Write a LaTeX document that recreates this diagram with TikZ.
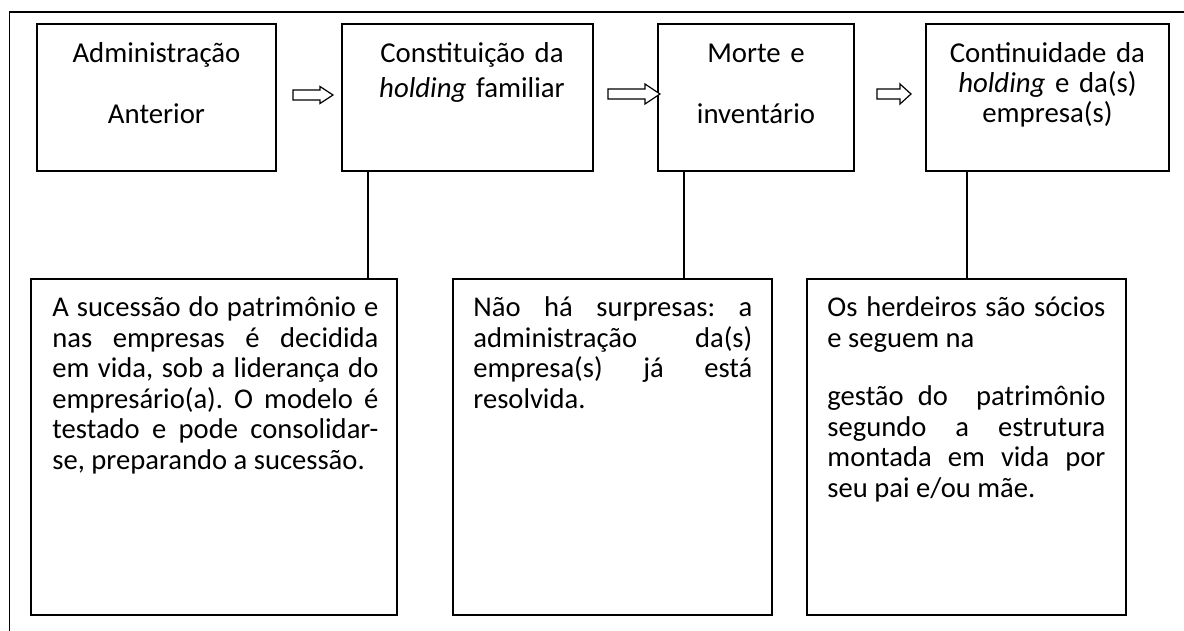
\documentclass[tikz,border=0pt]{standalone}
\usepackage{fontspec}
\setmainfont{Carlito}
\usetikzlibrary{calc}
\begin{document}
\frenchspacing
\begin{tikzpicture}[x=0.5pt,y=-0.5pt,
  box/.style={draw, line width=0.7pt, anchor=north west, inner sep=0pt, outer sep=0pt},
  toptext/.style={anchor=north, inner sep=0pt, text width=#1, align=center,
     font=\fontsize{14.4pt}{15pt}\selectfont},
  para/.style={anchor=north west, inner sep=0pt, text width=#1, align=justify,
     font=\fontsize{14.3pt}{15.3pt}\selectfont},
  link/.style={line width=0.7pt},
  blockarrow/.style={draw, line width=0.6pt, fill=white, line join=miter},
  frame/.style={line width=0.9pt}]
\useasboundingbox (0,0) rectangle (1184,631);
% outer frame (cut at right and bottom)
\draw[frame] (1184,12) -- (9.5,12) -- (9.5,631);

% top boxes
\node[box, minimum width=119.5pt, minimum height=73.5pt] (b1) at (37,24) {};
\node[box, minimum width=125.5pt, minimum height=73.5pt] (b2) at (342,24) {};
\node[box, minimum width=98pt,    minimum height=73.5pt] (b3) at (658,24) {};
\node[box, minimum width=121.5pt, minimum height=73.5pt] (b4) at (926,24) {};

\node[toptext=115pt] (t1) at (156.5,38) {\rule{0pt}{12pt}Administração\\[15.5pt]Anterior};
\node[toptext=122pt] (t2) at (472,38) {\rule{0pt}{12pt}Constituição da\\[2.5pt]\textit{holding} familiar};
\node[toptext=95pt]  (t3) at (756,38) {\rule{0pt}{12pt}Morte e\\[15.5pt]inventário};
\node[toptext=118pt] (t4) at (1047.5,38) {\rule{0pt}{12pt}Continuidade da\\\textit{holding} e da(s)\\empresa(s)};

% bottom boxes
\node[box, minimum width=183pt,   minimum height=168pt] (bA) at (31,279) {};
\node[box, minimum width=159.5pt, minimum height=168pt] (bB) at (453,279) {};
\node[box, minimum width=159.5pt, minimum height=168pt] (bC) at (807,279) {};

\node[para=163pt] (pA) at (52,292) {\rule{0pt}{12pt}A sucessão do patrimônio e\linebreak
nas empresas é decidida\linebreak em vida, sob a liderança do\linebreak
empresário(a). O modelo é\linebreak testado e pode consolidar-\linebreak
se, preparando a sucessão.};
\node[para=139.5pt] (pB) at (473,292) {\rule{0pt}{12pt}Não há surpresas: a\linebreak
administração da(s)\linebreak empresa(s) já está\linebreak resolvida.};
\node[para=139pt] (pC) at (827,292) {\rule{0pt}{12pt}Os herdeiros são sócios\linebreak
e seguem na\par\vspace{14pt}
gestão do\ \ patrimônio\linebreak segundo a estrutura\linebreak
montada em vida por\linebreak seu pai e/ou mãe.};

% connecting lines
\coordinate (v1) at ([xshift=13pt]b2.south west);
\coordinate (v2) at ([xshift=13pt]b3.south west);
\coordinate (v3) at ([xshift=20.5pt]b4.south west);
\draw[link] (v1) -- (v1 |- bA.north);
\draw[link] (v2) -- (v2 |- bB.north);
\draw[link] (v3) -- (v3 |- bC.north);

% block arrows
\draw[blockarrow] (293,90) -- (320,90) -- (320,86.5) -- (333,95) -- (320,103.5) -- (320,100) -- (293,100) -- cycle;
\draw[blockarrow] (608,89) -- (645,89) -- (645,84) -- (660,94) -- (645,104) -- (645,99) -- (608,99) -- cycle;
\draw[blockarrow] (877,89) -- (900,89) -- (900,84) -- (911,94) -- (900,104) -- (900,99) -- (877,99) -- cycle;
\end{tikzpicture}
\end{document}
